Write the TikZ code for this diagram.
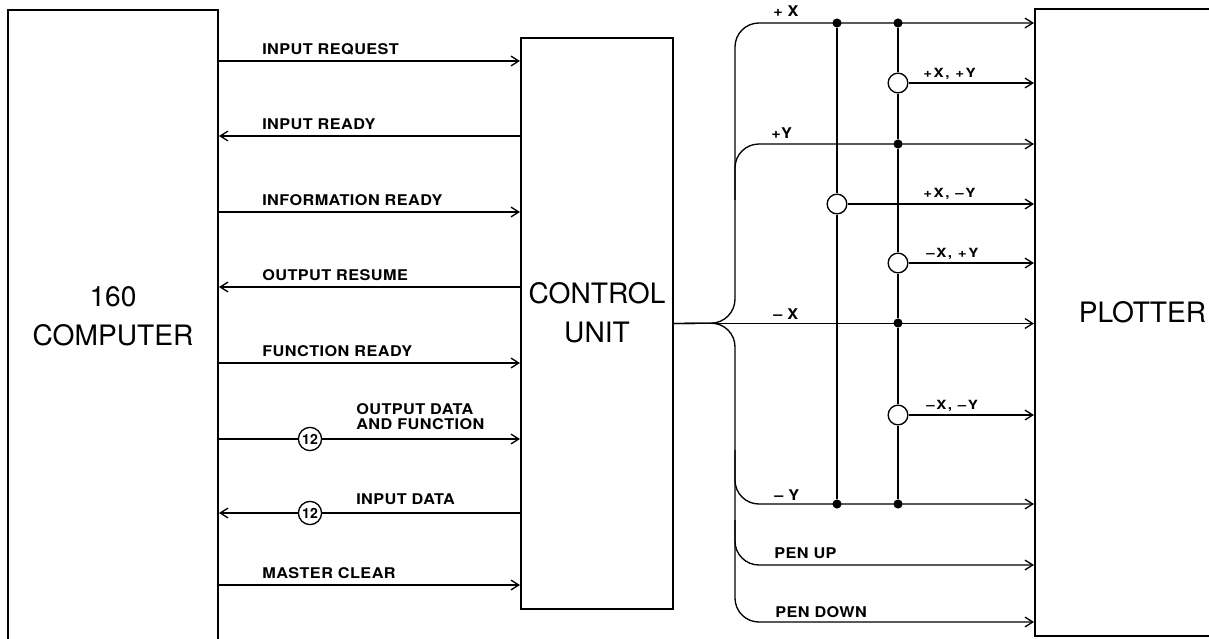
\documentclass[tikz,border=0pt]{standalone}
\usepackage{fontspec}
\setsansfont{TeX Gyre Heros}
\newfontfamily\sigfont[LetterSpace=3,FakeStretch=1.1]{TeX Gyre Heros}
\newfontfamily\combfont[LetterSpace=12,FakeStretch=1.2]{TeX Gyre Heros}
\usetikzlibrary{arrows.meta,fit}
\tikzset{
	>={Straight Barb[length=5.5pt,width=7pt]},
	unit/.style={draw, line width=1.5pt, inner sep=0pt, align=center, font=\sffamily\fontsize{20}{28}\selectfont},
	sig/.style={line width=0.95pt},
	lbl/.style={anchor=base west, inner sep=0pt, align=left, font=\sigfont\bfseries\fontsize{10.5}{10.7}\selectfont},
	comb/.style={anchor=base west, inner sep=0pt, font=\combfont\bfseries\fontsize{9}{9}\selectfont},
	bub/.style={draw, circle, line width=0.95pt, fill=white, minimum size=16.5pt, inner sep=0pt, font=\sffamily\bfseries\fontsize{10}{10}\selectfont},
	gate/.style={draw, circle, line width=0.95pt, fill=white, minimum size=14pt, inner sep=0pt},
	dot/.style={circle, fill=black, minimum size=6.5pt, inner sep=0pt}
}

\begin{document}
\begin{tikzpicture}[x=0.025cm, y=-0.025cm]
			%%%%% START %%%%%
			\useasboundingbox (0,0) rectangle (1209,638);
			\clip (0,0) rectangle (1209,638);
			
			\node[unit, fit={(8,10) (218,642)}] (comp) {160\\COMPUTER};
			\node[unit, fit={(521,38) (673,609)}] (ctrl) {CONTROL\\UNIT};
			\node[unit, fit={(1035,9) (1250,636)}] (plot) {PLOTTER};
			
			% computer <-> control unit
			\foreach \y/\txt in {61/INPUT REQUEST, 212/INFORMATION READY, 363/FUNCTION READY, 585/MASTER CLEAR}
			{
				\draw[sig, ->] (comp.east |- 0,\y) -- (ctrl.west |- 0,\y);
				\node[lbl] (l\y) at (262, \y-7) {\txt};
			}
			\foreach \y/\txt in {136/INPUT READY, 287/OUTPUT RESUME}
			{
				\draw[sig, <-] (comp.east |- 0,\y) -- (ctrl.west |- 0,\y);
				\node[lbl] (l\y) at (262, \y-7) {\txt};
			}
			
			\node[bub] (b1) at (310,439) {12};
			\node[bub] (b2) at (310,513) {12};
			\draw[sig] (comp.east |- b1) -- (b1);
			\draw[sig, ->] (b1) -- (ctrl.west |- b1);
			\draw[sig, <-] (comp.east |- b2) -- (b2);
			\draw[sig] (b2) -- (ctrl.west |- b2);
			\node[lbl, anchor=south west] (l439) at (356,430) {OUTPUT DATA\\AND FUNCTION};
			\node[lbl] (l513) at (356,504) {INPUT DATA};
			
			% control unit -> plotter
			\draw[sig, ->, rounded corners=17pt] (ctrl.east) -- (735,323) -- (735,23) -- (plot.west |- 0,23);
			\draw[sig, ->, rounded corners=17pt] (ctrl.east) -- (735,323) -- (735,622) -- (plot.west |- 0,622);
			\draw[sig, ->, rounded corners=17pt] (735,200) -- (735,144) -- (plot.west |- 0,144);
			\draw[sig, ->, rounded corners=17pt] (735,450) -- (735,504) -- (plot.west |- 0,504);
			\draw[sig, ->, rounded corners=17pt] (735,520) -- (735,565) -- (plot.west |- 0,565);
			\draw[sig, ->] (ctrl.east) -- (plot.west |- ctrl.east);
			
			\node[lbl] (px) at (773,17) {+ X};
			\node[lbl] (py) at (771,138) {+Y};
			\node[lbl] (mx) at (773,319) {– X};
			\node[lbl] (my) at (774,500) {– Y};
			\node[lbl] (pu) at (774,558) {PEN UP};
			\node[lbl] (pd) at (775,617) {PEN DOWN};
			
			% decoding buses
			\node[dot] (a1) at (837,23) {};
			\node[dot] (a2) at (837,504) {};
			\node[gate] (ga) at (837,204) {};
			\draw[sig] (a1) -- (ga) -- (a2);
			
			\node[dot] (c1) at (898,23) {};
			\node[dot] (c2) at (898,144) {};
			\node[dot] (c3) at (898,323) {};
			\node[dot] (c4) at (898,504) {};
			\node[gate] (g1) at (898,83) {};
			\node[gate] (g2) at (898,263) {};
			\node[gate] (g3) at (898,415) {};
			\draw[sig] (c1) -- (g1) -- (c2) -- (g2) -- (c3) -- (g3) -- (c4);
			
			\draw[sig, ->] (g1) -- (plot.west |- g1);
			\draw[sig, ->] (ga) -- (plot.west |- ga);
			\draw[sig, ->] (g2) -- (plot.west |- g2);
			\draw[sig, ->] (g3) -- (plot.west |- g3);
			
			\node[comb] (k1) at (923,77) {+X, +Y};
			\node[comb] (k2) at (923,197) {+X, –Y};
			\node[comb] (k3) at (926,257) {–X, +Y};
			\node[comb] (k4) at (926,409) {–X, –Y};
			
			%%%%% END %%%%%
\end{tikzpicture}
\end{document}
